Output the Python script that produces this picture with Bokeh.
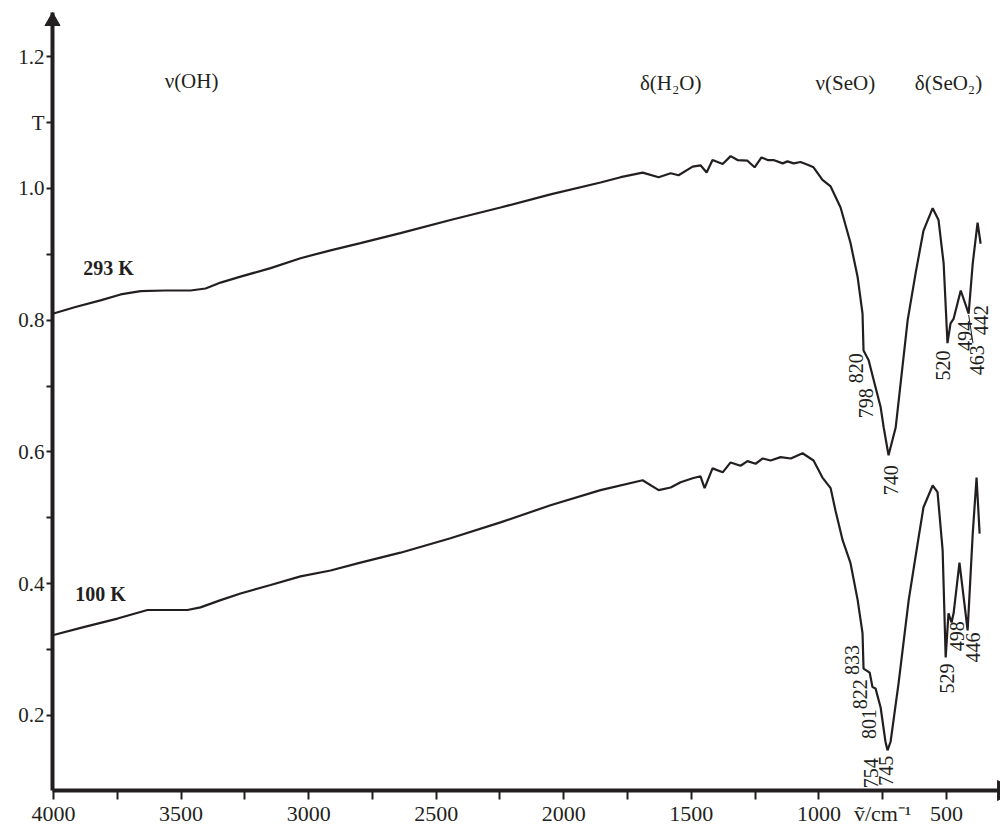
import math
from bokeh.plotting import figure
from bokeh.models import Range1d, FixedTicker
from bokeh.core.properties import value
from bokeh.embed import file_html
from bokeh.resources import INLINE

# ---- spectra (wavenumber / cm-1, transmittance) ----
wn_293 = [4000, 3914, 3816, 3737, 3659, 3561, 3463, 3404, 3345, 3267, 3149, 3032, 2914, 2797,
          2640, 2444, 2248, 2052, 1856, 1777, 1691, 1628, 1581, 1550, 1495, 1464, 1440, 1417,
          1377, 1346, 1319, 1280, 1252, 1225, 1201, 1178, 1142, 1123, 1099, 1072, 1044, 1021,
          986, 954, 915, 876, 848, 829, 825, 805, 778, 758, 746, 727, 699, 652, 621, 590, 554,
          531, 511, 496, 484, 472, 444, 413, 397, 378, 366]
t_293 = [0.810, 0.820, 0.830, 0.839, 0.844, 0.845, 0.845, 0.848, 0.857, 0.866, 0.879, 0.894,
         0.906, 0.917, 0.932, 0.952, 0.971, 0.991, 1.009, 1.017, 1.024, 1.017, 1.023, 1.020,
         1.033, 1.035, 1.024, 1.043, 1.037, 1.049, 1.043, 1.042, 1.032, 1.047, 1.043, 1.043,
         1.038, 1.041, 1.038, 1.040, 1.036, 1.032, 1.013, 1.003, 0.971, 0.917, 0.865, 0.810,
         0.754, 0.739, 0.698, 0.668, 0.637, 0.595, 0.637, 0.800, 0.871, 0.936, 0.970, 0.952,
         0.886, 0.765, 0.795, 0.802, 0.845, 0.810, 0.886, 0.948, 0.916]

wn_100 = [4000, 3882, 3749, 3632, 3475, 3424, 3345, 3267, 3149, 3032, 2914, 2797, 2640, 2444,
          2248, 2052, 1856, 1691, 1628, 1581, 1542, 1495, 1464, 1448, 1417, 1377, 1346, 1307,
          1280, 1248, 1220, 1189, 1150, 1110, 1064, 1021, 986, 954, 935, 907, 876, 848, 829,
          825, 801, 790, 778, 758, 739, 731, 719, 688, 648, 613, 590, 554, 535, 515, 503, 492,
          480, 472, 449, 417, 397, 382, 370]
t_100 = [0.322, 0.334, 0.347, 0.360, 0.360, 0.364, 0.375, 0.385, 0.398, 0.411, 0.420, 0.432,
         0.447, 0.469, 0.493, 0.519, 0.542, 0.557, 0.542, 0.546, 0.554, 0.560, 0.563, 0.545,
         0.575, 0.569, 0.584, 0.579, 0.586, 0.582, 0.590, 0.587, 0.592, 0.590, 0.598, 0.587,
         0.561, 0.545, 0.511, 0.466, 0.431, 0.375, 0.325, 0.271, 0.265, 0.243, 0.241, 0.212,
         0.160, 0.147, 0.160, 0.248, 0.375, 0.461, 0.516, 0.549, 0.539, 0.451, 0.288, 0.355,
         0.341, 0.355, 0.432, 0.329, 0.476, 0.561, 0.476]

# ---- ticks ----
x_ticks = [4000, 3750, 3500, 3250, 3000, 2750, 2500, 2250, 2000, 1750, 1500, 1250, 1000, 750, 500]
x_tick_labels = ["4000", "", "3500", "", "3000", "", "2500", "", "2000", "", "1500", "", "1000",
                 "\u1e7d/cm\u207b\u00b9", "500"]
y_ticks = [0.2, 0.3, 0.4, 0.5, 0.6, 0.7, 0.8, 0.9, 1.0, 1.1, 1.2]
y_tick_labels = ["0.2", "", "0.4", "", "0.6", "", "0.8", "", "1.0", "T", "1.2"]

# ---- annotations ----
band_names = ["\u03bd(OH)", "\u03b4(H\u2082O)", "\u03bd(SeO)", "\u03b4(SeO\u2082)"]
band_x = [3459, 1581, 896, 492]
band_y = [1.163, 1.160, 1.160, 1.160]

temp_names = ["293 K", "100 K"]
temp_x = [3784, 3816]
temp_y = [0.879, 0.384]

peak_names = ["820", "798", "740", "520", "494", "463", "442",
              "833", "822", "801", "754", "745", "529", "498", "446"]
peak_x = [856, 817, 719, 515, 429, 382, 366,
          872, 837, 805, 797, 738, 499, 460, 397]
peak_y = [0.727, 0.674, 0.557, 0.731, 0.776, 0.739, 0.800,
          0.284, 0.232, 0.187, 0.112, 0.116, 0.256, 0.320, 0.303]

INK = "#231f20"
SERIF = "Liberation Serif"

x0, x1 = 4004, 296
y0, y1 = 0.086, 1.267

p = figure(width=1000, height=828, x_range=Range1d(x0, x1), y_range=Range1d(y0, y1),
           output_backend="svg", toolbar_location=None,
           min_border_left=52, min_border_right=2, min_border_top=12, min_border_bottom=30)
p.background_fill_color = "white"
p.border_fill_color = "white"
p.outline_line_color = None
p.xgrid.visible = False
p.ygrid.visible = False

p.line(wn_293, t_293, line_width=2.2, color=INK)
p.line(wn_100, t_100, line_width=2.2, color=INK)

# leader line for 463
p.segment(x0=[413], y0=[0.808], x1=[396], y1=[0.765], line_width=1, color=INK)

# axes
for ax in (p.xaxis[0], p.yaxis[0]):
    ax.axis_line_width = 4
    ax.axis_line_color = INK
    ax.major_tick_line_color = INK
    ax.major_tick_line_width = 2
    ax.major_tick_in = 0
    ax.minor_tick_line_color = None
    ax.major_label_text_font = SERIF
    ax.major_label_text_color = INK

p.xaxis.ticker = FixedTicker(ticks=x_ticks)
p.xaxis.major_label_overrides = dict(zip(x_ticks, x_tick_labels))
p.xaxis.major_tick_out = 9
p.xaxis.major_label_standoff = 1
p.xaxis.major_label_text_font_size = "22px"

p.yaxis.ticker = FixedTicker(ticks=y_ticks)
p.yaxis.major_label_overrides = dict(zip(y_ticks, y_tick_labels))
p.yaxis.major_tick_out = 6
p.yaxis.major_label_standoff = 2
p.yaxis.major_label_text_font_size = "21px"

# arrow heads at the ends of both axes (drawn above the frame clip)
p.scatter(x=[x0], y=[y1 - 0.0132], marker="triangle", size=15, color=INK, level="overlay")
p.scatter(x=[x1 - 19], y=[y0], marker="triangle", size=20, angle=-math.pi / 2,
          color=INK, level="overlay")

p.text(x=band_x, y=band_y, text=band_names, text_font=value(SERIF), text_font_size="21px",
       text_align="center", text_baseline="middle", text_color=INK)
p.text(x=temp_x, y=temp_y, text=temp_names, text_font=value(SERIF), text_font_size="20px",
       text_font_style="bold", text_align="center", text_baseline="middle", text_color=INK)
p.text(x=peak_x, y=peak_y, text=peak_names, angle=math.pi / 2, text_font=value(SERIF),
       text_font_size="20px", text_align="center", text_baseline="middle", text_color=INK)

open("out.html", "w").write(file_html(p, INLINE))
